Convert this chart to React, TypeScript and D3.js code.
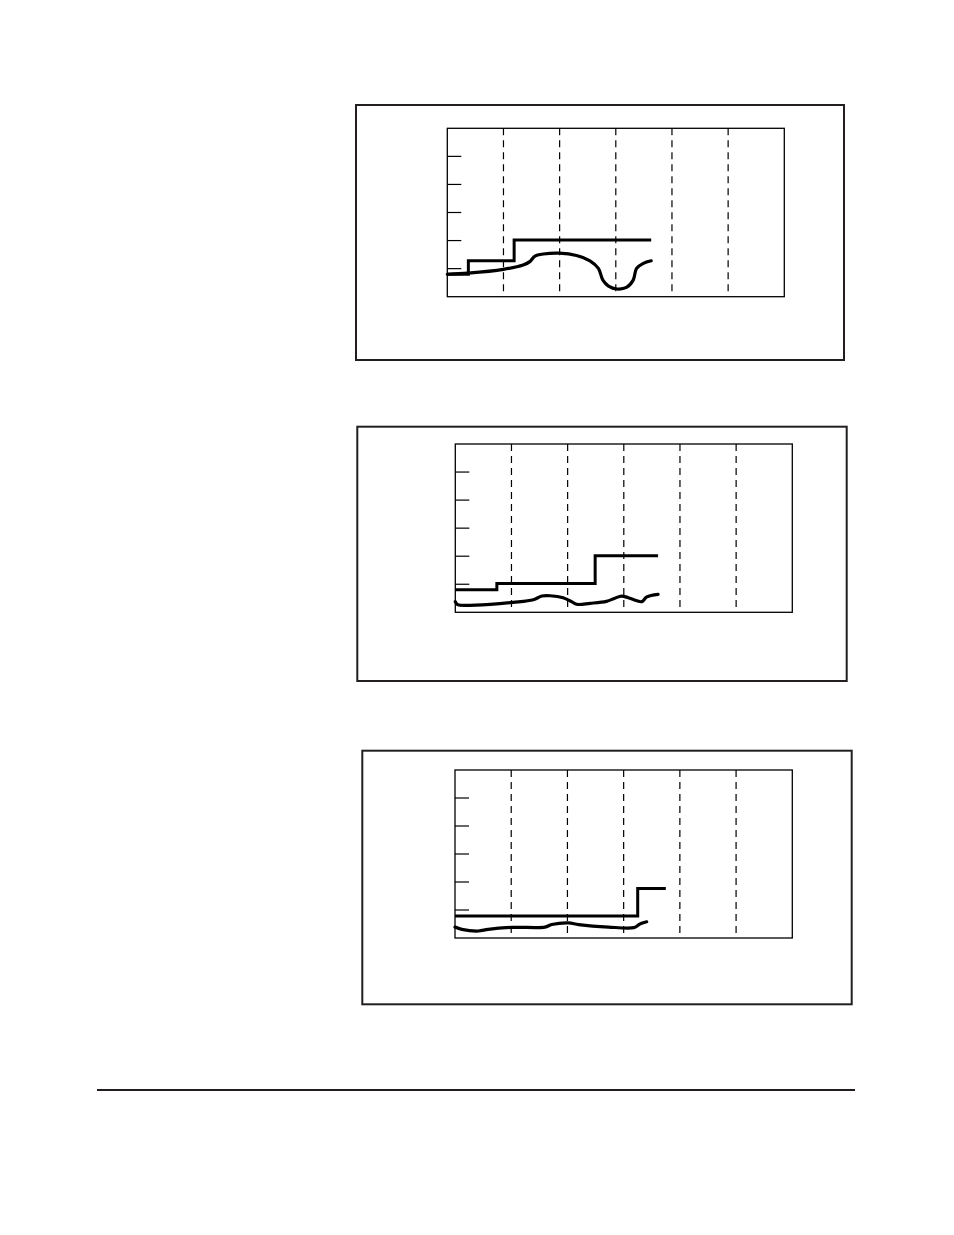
import React from 'react';
import * as d3 from 'd3';

// step series: [x, y] breakpoints (stepAfter), last point closes the line
const stepA: [number, number][] = [[0, 0.8], [0.375, 1.28], [1.19, 2.02], [3.63, 2.02]];
const stepB: [number, number][] = [[0, 0.8], [0.74, 1.03], [2.49, 2.02], [3.61, 2.02]];
const stepC: [number, number][] = [[0, 0.79], [3.25, 1.77], [3.75, 1.77]];

// measured curves
const curveA: [number, number][] = [
  [0, 0.8], [0.37, 0.84], [1.0, 0.975], [1.35, 1.13], [1.47, 1.25], [1.56, 1.45],
  [1.71, 1.52], [1.99, 1.55], [2.3, 1.47], [2.54, 1.28], [2.69, 1.01], [2.77, 0.59],
  [2.87, 0.38], [3.02, 0.275], [3.19, 0.33], [3.31, 0.59], [3.37, 1.01], [3.49, 1.19],
  [3.63, 1.28],
];
const curveB: [number, number][] = [
  [0, 0.38], [0.04, 0.27], [0.14, 0.25], [0.62, 0.285], [1.03, 0.356], [1.39, 0.45],
  [1.54, 0.58], [1.69, 0.59], [1.92, 0.52], [2.07, 0.38], [2.16, 0.285], [2.4, 0.32],
  [2.69, 0.39], [2.84, 0.5], [2.96, 0.58], [3.08, 0.52], [3.22, 0.42], [3.32, 0.38],
  [3.41, 0.55], [3.61, 0.64],
];
const curveC: [number, number][] = [
  [0, 0.39], [0.12, 0.31], [0.415, 0.25], [0.59, 0.31], [1.01, 0.38], [1.6, 0.39],
  [1.72, 0.48], [2.02, 0.54], [2.2, 0.48], [2.73, 0.39], [3.18, 0.37], [3.26, 0.46],
  [3.31, 0.52], [3.41, 0.58],
];

const xGrid = [1, 2, 3, 4, 5];
const yTicks = [1, 2, 3, 4, 5];

interface Panel {
  outer: [number, number, number, number];
  plot: [number, number, number, number];
  step: [number, number][];
  curve: [number, number][];
}

const panels: Panel[] = [
  { outer: [356, 105, 844, 360], plot: [447.3, 128.3, 784.3, 296.7], step: stepA, curve: curveA },
  { outer: [357.3, 426.7, 846.7, 681], plot: [455.3, 444, 792.3, 612.3], step: stepB, curve: curveB },
  { outer: [362.3, 750.7, 851.7, 1004.3], plot: [455, 770, 792.3, 938], step: stepC, curve: curveC },
];

const PanelChart: React.FC<{ p: Panel }> = ({ p }) => {
  const [x0, y0, x1, y1] = p.plot;
  const x = d3.scaleLinear().domain([0, 6]).range([x0, x1]);
  const y = d3.scaleLinear().domain([0, 6]).range([y1, y0]);

  const stepLine = d3.line<[number, number]>()
    .x(d => x(d[0]))
    .y(d => y(d[1]))
    .curve(d3.curveStepAfter);
  const smooth = d3.line<[number, number]>()
    .x(d => x(d[0]))
    .y(d => y(d[1]))
    .curve(d3.curveCatmullRom.alpha(0.5));

  const [ox0, oy0, ox1, oy1] = p.outer;
  return (
    <g>
      <rect x={ox0} y={oy0} width={ox1 - ox0} height={oy1 - oy0}
        fill="none" stroke="#231f20" strokeWidth={2} />
      {xGrid.map(v => (
        <line key={v} x1={x(v)} x2={x(v)} y1={y0} y2={y1}
          stroke="#000" strokeWidth={1.2} strokeDasharray="7,5" />
      ))}
      {yTicks.map(v => (
        <line key={v} x1={x0} x2={x0 + 14} y1={y(v)} y2={y(v)}
          stroke="#000" strokeWidth={1.2} />
      ))}
      <rect x={x0} y={y0} width={x1 - x0} height={y1 - y0}
        fill="none" stroke="#000" strokeWidth={1.3} />
      <path d={stepLine(p.step) || ''} fill="none" stroke="#000" strokeWidth={3} />
      <path d={smooth(p.curve) || ''} fill="none" stroke="#000" strokeWidth={3.2}
        strokeLinecap="round" strokeLinejoin="round" />
    </g>
  );
};

const App: React.FC = () => (
  <svg width={954} height={1235} viewBox="0 0 954 1235"
    style={{ position: 'absolute', left: 0, top: 0, background: '#fff' }}>
    {panels.map((p, i) => <PanelChart key={i} p={p} />)}
    <line x1={97} x2={855} y1={1090} y2={1090} stroke="#231f20" strokeWidth={2} />
  </svg>
);

export default App;
